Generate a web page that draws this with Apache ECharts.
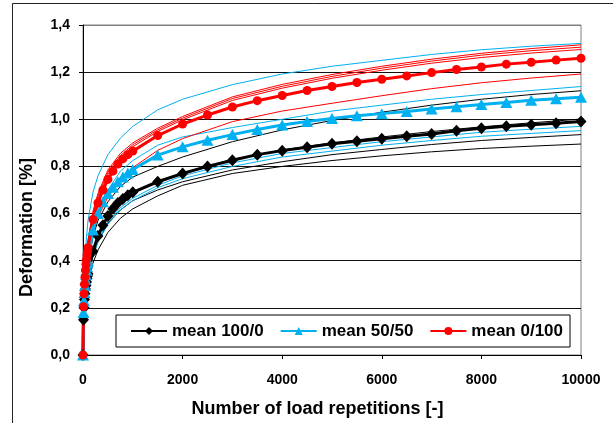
<!DOCTYPE html>
<html>
<head>
<meta charset="utf-8">
<script src="https://cdn.jsdelivr.net/npm/echarts@6/dist/echarts.min.js"></script>
<style>
html,body{margin:0;padding:0;background:#fff;}
#chart{width:613px;height:423px;}
</style>
</head>
<body>
<div id="chart"></div>
<script>
// ---- data ----
var xMean = [0,10,20,30,40,50,60,70,80,90,100,200,300,400,500,600,700,800,900,1000,
  1500,2000,2500,3000,3500,4000,4500,5000,5500,6000,6500,7000,7500,8000,8500,9000,9500,10000];
var mean100_0 = [0,0.15,0.2,0.235,0.26,0.28,0.295,0.31,0.325,0.335,0.345,0.44,0.505,0.55,0.59,0.62,0.645,0.662,0.678,0.69,
  0.735,0.77,0.8,0.826,0.85,0.867,0.881,0.896,0.907,0.917,0.928,0.938,0.951,0.962,0.97,0.977,0.983,0.991];
var mean50_50 = [0,0.18,0.23,0.265,0.295,0.32,0.34,0.36,0.375,0.39,0.4,0.53,0.6,0.65,0.685,0.712,0.735,0.755,0.772,0.787,
  0.848,0.883,0.911,0.935,0.957,0.976,0.991,1.003,1.015,1.024,1.033,1.044,1.053,1.063,1.071,1.081,1.087,1.093];
var mean0_100 = [0,0.205,0.26,0.3,0.33,0.36,0.385,0.405,0.425,0.44,0.455,0.575,0.645,0.7,0.745,0.78,0.81,0.832,0.85,0.865,
  0.931,0.98,1.018,1.052,1.079,1.101,1.122,1.139,1.156,1.17,1.184,1.198,1.211,1.222,1.234,1.242,1.251,1.259];

var xThin = [0,10,25,50,100,200,300,500,750,1000,1500,2000,3000,4000,5000,6000,7000,8000,9000,10000];
// individual specimens 0/100 (red)
var red1 = [0,0.22,0.30,0.39,0.49,0.61,0.685,0.785,0.855,0.9,0.962,1.012,1.095,1.148,1.19,1.225,1.255,1.28,1.3,1.316];
var red2 = [0,0.21,0.29,0.38,0.48,0.6,0.675,0.775,0.845,0.892,0.955,1.005,1.088,1.14,1.182,1.217,1.247,1.272,1.291,1.306];
var red3 = [0,0.2,0.285,0.37,0.47,0.59,0.665,0.765,0.835,0.884,0.948,0.998,1.08,1.132,1.174,1.208,1.238,1.262,1.281,1.296];
var red4 = [0,0.19,0.26,0.33,0.41,0.52,0.585,0.67,0.74,0.795,0.868,0.918,0.99,1.035,1.068,1.1,1.13,1.155,1.175,1.192];
// individual specimens 50/50 (blue)
var blue1 = [0,0.25,0.35,0.45,0.57,0.69,0.76,0.85,0.92,0.97,1.04,1.085,1.147,1.192,1.225,1.25,1.275,1.295,1.31,1.322];
var blue2 = [0,0.17,0.24,0.31,0.4,0.52,0.6,0.7,0.78,0.825,0.89,0.925,0.965,1.0,1.035,1.06,1.085,1.105,1.122,1.139];
var blue3 = [0,0.15,0.2,0.26,0.33,0.43,0.49,0.565,0.625,0.665,0.72,0.76,0.815,0.855,0.88,0.905,0.925,0.945,0.958,0.97];
var blue4 = [0,0.14,0.19,0.25,0.32,0.42,0.48,0.555,0.615,0.655,0.71,0.748,0.8,0.84,0.865,0.89,0.91,0.928,0.94,0.952];
// individual specimens 100/0 (black)
var black1 = [0,0.17,0.24,0.31,0.39,0.5,0.57,0.65,0.715,0.755,0.8,0.84,0.905,0.955,0.995,1.03,1.06,1.085,1.105,1.121];
var black2 = [0,0.15,0.2,0.26,0.34,0.44,0.5,0.585,0.645,0.685,0.735,0.77,0.83,0.87,0.9,0.925,0.948,0.968,0.985,1.001];
var black3 = [0,0.14,0.19,0.25,0.33,0.42,0.48,0.56,0.615,0.655,0.7,0.735,0.785,0.82,0.85,0.872,0.893,0.91,0.923,0.935];
var black4 = [0,0.13,0.18,0.23,0.3,0.39,0.445,0.52,0.58,0.62,0.675,0.72,0.77,0.8,0.825,0.845,0.862,0.876,0.886,0.895];

var legendNames = ['mean 100/0','mean 50/50','mean 0/100'];
var xTitle = 'Number of load repetitions [-]';
var yTitle = 'Deformation [%]';

var BLACK = '#000000', BLUE = '#00B0F0', RED = '#FF0000';
var FONT = 'Liberation Sans, Arial, sans-serif';

function pairs(xs, ys){ return xs.map(function(x,i){ return [x, ys[i]]; }); }
function thin(name, ys, color){
  return { name: name, type: 'line', data: pairs(xThin, ys), showSymbol: false, symbol: 'none',
    lineStyle: { width: 1, color: color }, itemStyle: { color: color }, silent: true, z: 2, animation: false };
}
function meanSeries(name, ys, color, sym, size){
  return { name: name, type: 'line', data: pairs(xMean, ys), symbol: sym, symbolSize: size,
    lineStyle: { width: 3, color: color }, itemStyle: { color: color }, z: 5, animation: false };
}

var chart = echarts.init(document.getElementById('chart'), null, { renderer: 'canvas' });
chart.setOption({
  backgroundColor: '#ffffff',
  animation: false,
  textStyle: { fontFamily: FONT },
  graphic: [{ type: 'rect', shape: { x: 12.5, y: 3.5, width: 700, height: 500 },
    style: { fill: 'none', stroke: '#222', lineWidth: 1 }, z: -10, silent: true }],
  grid: { left: 83, right: 32, top: 25, bottom: 67, show: true, borderColor: '#808080', borderWidth: 1, backgroundColor: 'transparent' },
  legend: {
    data: legendNames, left: 116, top: 315, orient: 'horizontal',
    padding: [7, 7, 7, 14], itemGap: 16, itemWidth: 36, itemHeight: 10,
    backgroundColor: '#ffffff', borderColor: '#000', borderWidth: 1, borderRadius: 0,
    textStyle: { fontFamily: FONT, fontWeight: 'bold', fontSize: 17, color: '#000', lineHeight: 18 },
    z: 20
  },
  xAxis: {
    type: 'value', min: 0, max: 10000, interval: 2000,
    name: xTitle, nameLocation: 'middle', nameGap: 45,
    nameTextStyle: { fontFamily: FONT, fontWeight: 'bold', fontSize: 18, color: '#000', padding: [0, 29, 0, 0] },
    axisLine: { show: true, lineStyle: { color: '#000', width: 1 } },
    axisTick: { show: true, inside: false, length: 4, lineStyle: { color: '#000' } },
    axisLabel: { margin: 18, fontFamily: FONT, fontWeight: 'bold', fontSize: 14, color: '#000',
      formatter: function(v){ return String(Math.round(v)); } },
    splitLine: { show: false }
  },
  yAxis: {
    type: 'value', min: 0, max: 1.4, interval: 0.2,
    name: yTitle, nameLocation: 'middle', nameGap: 47, nameRotate: 90,
    nameTextStyle: { fontFamily: FONT, fontWeight: 'bold', fontSize: 18, color: '#000', padding: [0, 75, 0, 0] },
    axisLine: { show: true, lineStyle: { color: '#000', width: 1 } },
    axisTick: { show: true, inside: false, length: 4, lineStyle: { color: '#000' } },
    axisLabel: { margin: 13, fontFamily: FONT, fontWeight: 'bold', fontSize: 14, color: '#000',
      formatter: function(v){ return v.toFixed(1).replace('.', ','); } },
    splitLine: { show: true, lineStyle: { color: ['#000','#111','#111','#111','#111','#111','#111','#808080'], width: 1 } }
  },
  series: [
    thin('s100_0_1', black1, BLACK), thin('s100_0_2', black2, BLACK), thin('s100_0_3', black3, BLACK), thin('s100_0_4', black4, BLACK),
    thin('s50_50_1', blue1, BLUE), thin('s50_50_2', blue2, BLUE), thin('s50_50_3', blue3, BLUE), thin('s50_50_4', blue4, BLUE),
    thin('s0_100_1', red1, RED), thin('s0_100_2', red2, RED), thin('s0_100_3', red3, RED), thin('s0_100_4', red4, RED),
    meanSeries(legendNames[0], mean100_0, BLACK, 'diamond', [11, 12]),
    meanSeries(legendNames[1], mean50_50, BLUE, 'triangle', [12, 11]),
    meanSeries(legendNames[2], mean0_100, RED, 'circle', 9)
  ]
});
</script>
</body>
</html>
